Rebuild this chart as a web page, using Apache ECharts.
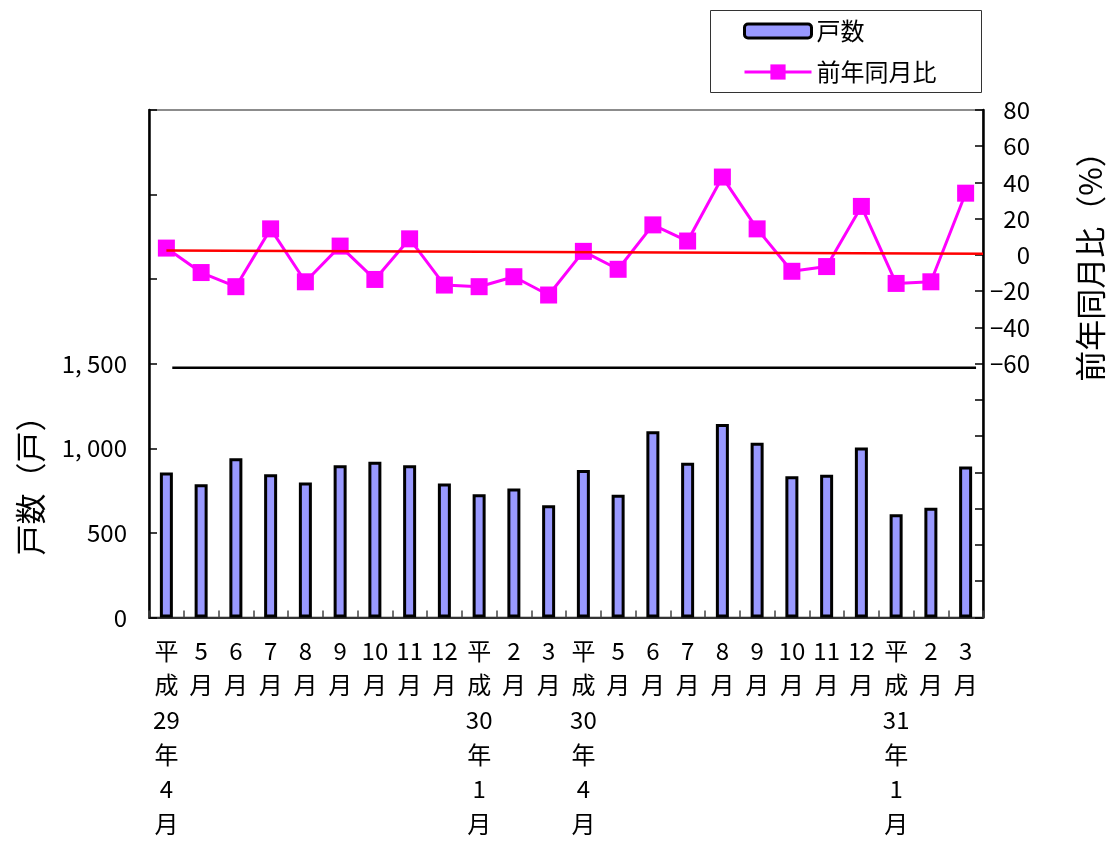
<!DOCTYPE html>
<html>
<head>
<meta charset="utf-8">
<script src="https://cdn.jsdelivr.net/npm/echarts@6/dist/echarts.min.js"></script>
<style>
html,body{margin:0;padding:0;background:#fff;}
#chart{width:1112px;height:841px;}
</style>
</head>
<body>
<div id="chart"></div>
<script>
// ---- data ----
const categories = [
  '平\n成\n29\n年\n4\n月','5\n月','6\n月','7\n月','8\n月','9\n月','10\n月','11\n月','12\n月',
  '平\n成\n30\n年\n1\n月','2\n月','3\n月',
  '平\n成\n30\n年\n4\n月','5\n月','6\n月','7\n月','8\n月','9\n月','10\n月','11\n月','12\n月',
  '平\n成\n31\n年\n1\n月','2\n月','3\n月'
];
const households = [856, 787, 941, 846, 797, 900, 920, 900, 791, 728, 762, 663,
                    872, 725, 1100, 915, 1144, 1032, 835, 843, 1004, 610, 648, 892];
const yoyRatio = [3.8, -9.7, -17.5, 14.4, -14.8, 4.9, -13.5, 8.9, -16.6, -17.5, -12.0, -22.1,
                  2.0, -7.9, 16.6, 7.7, 43.0, 14.4, -9.0, -6.4, 26.8, -15.7, -14.8, 34.1];
// trend line end points [category position, value]
const trendLine = [[0.5, 2.5], [24, 0.7]];
// separator line [category position, households value]
const separatorLine = [[0.67, 1476], [23.8, 1476]];
const leftTickMaxLabel = 1500;
const rightTickMinLabel = -60;

const FONT = '"Noto Sans CJK JP", "Noto Sans", sans-serif';

function fmtThousands(v) {
  if (v >= 1000) {
    const t = Math.floor(v / 1000);
    const r = String(v % 1000).padStart(3, '0');
    return t + ', ' + r;
  }
  return String(v);
}

const chart = echarts.init(document.getElementById('chart'), null, {renderer: 'canvas'});
const legendText = {fontFamily: FONT, fontSize: 24, color: '#000'};
const option = {
  backgroundColor: '#ffffff',
  animation: false,
  textStyle: {fontFamily: FONT},
  grid: {
    left: 149, right: 129, top: 110, bottom: 221,
    show: true, borderColor: '#8c8c8c', borderWidth: 2, backgroundColor: 'transparent'
  },
  legend: [
    {
      left: 743, top: 19, padding: 0,
      itemWidth: 67, itemHeight: 14, itemGap: 0,
      textStyle: legendText,
      data: [{name: '戸数', icon: 'roundRect', itemStyle: {color: '#9999FF', borderColor: '#000', borderWidth: 3}}]
    },
    {
      left: 743, top: 60, padding: 0,
      itemWidth: 67, itemHeight: 19, itemGap: 0,
      textStyle: legendText,
      lineStyle: {width: 3, color: '#FF00FF'},
      data: [{name: '前年同月比'}]
    }
  ],
  xAxis: [
    {
      type: 'category',
      data: categories,
      position: 'bottom',
      axisLine: {show: true, lineStyle: {color: '#333', width: 2}},
      axisTick: {show: true, inside: true, length: 7, lineStyle: {color: '#444', width: 1.5}},
      axisLabel: {
        interval: 0, fontFamily: FONT, fontSize: 24, color: '#000',
        lineHeight: 34.6, margin: 16, verticalAlign: 'top'
      },
      splitLine: {show: false}
    },
    {
      type: 'value', min: 0, max: 24, show: false
    }
  ],
  yAxis: [
    {
      type: 'value', position: 'left',
      min: 0, max: 3000, interval: 500,
      axisLine: {show: true, lineStyle: {color: '#000', width: 2.5}},
      axisTick: {show: true, inside: true, length: 8, lineStyle: {color: '#000', width: 1.5}},
      axisLabel: {
        fontFamily: FONT, fontSize: 24, color: '#000', margin: 22,
        formatter: v => v <= leftTickMaxLabel ? fmtThousands(v) : ''
      },
      splitLine: {show: false}
    },
    {
      type: 'value', position: 'right',
      min: -200, max: 80, interval: 20,
      axisLine: {show: true, lineStyle: {color: '#000', width: 2.5}},
      axisTick: {show: true, inside: true, length: 8, lineStyle: {color: '#000', width: 1.5}},
      axisLabel: {
        fontFamily: FONT, fontSize: 24, color: '#000', margin: 47, align: 'right',
        formatter: v => v >= rightTickMinLabel ? String(v).replace('-', '−') : ''
      },
      splitLine: {show: false}
    }
  ],
  graphic: [
    {
      type: 'rect', z: -1, silent: true,
      shape: {x: 710.5, y: 10.5, width: 271, height: 82},
      style: {fill: '#fff', stroke: '#333', lineWidth: 1}
    },
    {
      type: 'text', x: 30, y: 478, rotation: Math.PI / 2,
      style: {text: '戸数（戸）', font: '31px ' + FONT, fill: '#000', align: 'center', verticalAlign: 'middle'}
    },
    {
      type: 'text', x: 1090, y: 259, rotation: Math.PI / 2,
      style: {text: '前年同月比（%）', font: '31px ' + FONT, fill: '#000', align: 'center', verticalAlign: 'middle'}
    }
  ],
  series: [
    {
      name: '戸数', type: 'bar',
      xAxisIndex: 0, yAxisIndex: 0,
      data: households,
      barWidth: 13,
      itemStyle: {color: '#9999FF', borderColor: '#000', borderWidth: 3},
      z: 2
    },
    {
      name: 'separator', type: 'line',
      xAxisIndex: 1, yAxisIndex: 0,
      data: separatorLine,
      symbol: 'none',
      lineStyle: {color: '#000', width: 2.5},
      silent: true, z: 3
    },
    {
      name: '前年同月比', type: 'line',
      xAxisIndex: 0, yAxisIndex: 1,
      data: yoyRatio,
      symbol: 'rect', symbolSize: 17,
      lineStyle: {color: '#FF00FF', width: 3},
      itemStyle: {color: '#FF00FF'},
      z: 4
    },
    {
      name: 'trend', type: 'line',
      xAxisIndex: 1, yAxisIndex: 1,
      data: trendLine,
      symbol: 'none',
      lineStyle: {color: '#FF0000', width: 2.5},
      silent: true, z: 5
    }
  ]
};
chart.setOption(option);
</script>
</body>
</html>
